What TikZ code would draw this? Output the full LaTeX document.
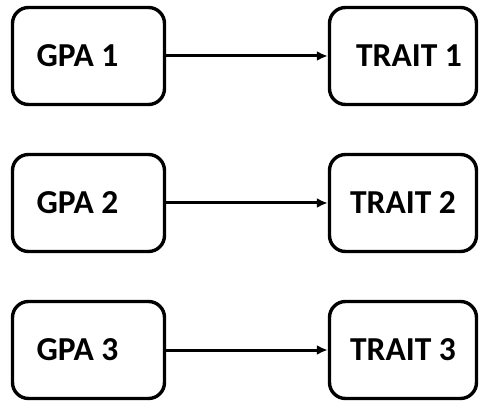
\documentclass[tikz,border=0pt]{standalone}
\usepackage{fontspec}
\setmainfont{Carlito}
\usetikzlibrary{arrows.meta}
\begin{document}
\begin{tikzpicture}[x=1pt,y=-1pt,
  box/.style={draw=black, line width=3.4pt, rounded corners=16pt, fill=white,
    minimum width=152pt, minimum height=97pt, inner sep=0pt,
    font=\fontsize{33.5}{36}\selectfont\bfseries},
  tbox/.style={box, minimum width=147pt},
  link/.style={line width=3pt, -{Latex[length=11pt,width=10pt]}}]
  \useasboundingbox (0,0) rectangle (480,401);
  % predictors
  \node[box] (g1) at (88.5,56) {GPA 1\hspace*{22pt}};
  \node[box] (g2) at (88.5,203) {GPA 2\hspace*{22pt}};
  \node[box] (g3) at (88.5,350) {GPA 3\hspace*{22pt}};
  % outcomes
  \node[tbox] (t1) at (403,56) {\hspace*{12pt}TRAIT 1};
  \node[tbox] (t2) at (403,203) {TRAIT 2};
  \node[tbox] (t3) at (403,350) {TRAIT 3};
  % connections
  \draw[link] (g1.east) -- (t1.west);
  \draw[link] (g2.east) -- (t2.west);
  \draw[link] (g3.east) -- (t3.west);
\end{tikzpicture}
\end{document}
